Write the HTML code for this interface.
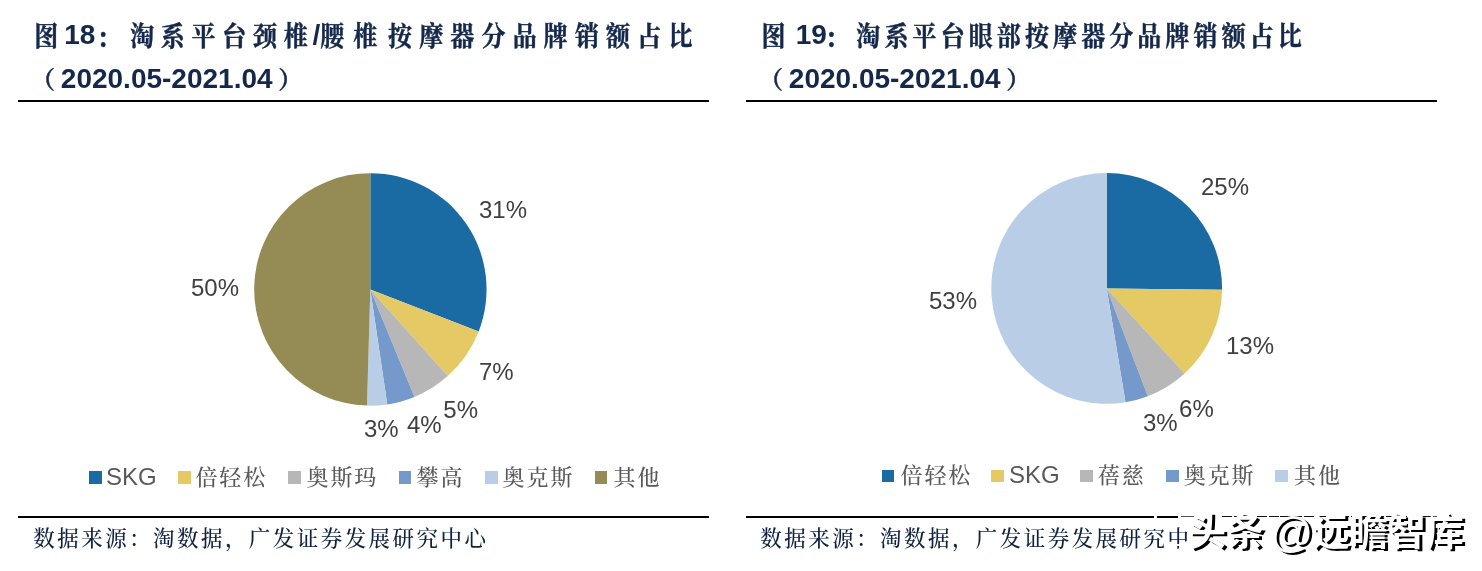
<!DOCTYPE html>
<html lang="zh-CN"><head><meta charset="utf-8"><title>图18 图19 淘系平台按摩器分品牌销额占比</title>
<style>
html,body{margin:0;padding:0;background:#fff;}
body{width:1482px;height:571px;position:relative;overflow:hidden;}
.t{position:absolute;white-space:nowrap;color:#14284b;font-weight:700;font-size:24px;line-height:40px;height:40px;font-family:"Liberation Sans","Noto Serif CJK SC",serif;}
.t .n{font-size:28px;letter-spacing:0;}
.t .p{-webkit-text-stroke:0.4px #14284b;}
.t .c{display:inline-block;transform:translateY(0.8px) scaleY(1.12);-webkit-text-stroke:0.4px #14284b;}
.rule{position:absolute;height:2px;background:#000;}
.src{position:absolute;white-space:nowrap;color:#10213f;font-size:21.5px;line-height:30px;font-family:"Liberation Serif","Noto Serif CJK SC",serif;letter-spacing:2.45px;font-weight:500;}
.lbl{position:absolute;white-space:nowrap;color:#404040;font-size:24px;line-height:28px;font-family:"Liberation Sans",sans-serif;}
.leg{position:absolute;top:462.5px;white-space:nowrap;color:#595959;font-size:22px;line-height:30px;letter-spacing:1.9px;font-family:"Liberation Sans","Noto Serif CJK SC",serif;font-weight:500;}
.leg.en{top:462px;font-size:24px;letter-spacing:0;font-weight:400;}
.sq{position:absolute;top:471px;width:12.8px;height:12.8px;}
.sq.r{top:470px;height:12px;}
.leg.r{top:460.5px;}
.leg.en.r{top:460px;}
svg{position:absolute;left:0;top:0;}
.gap{position:absolute;top:515px;height:4px;background:#fff;}
.thin{position:absolute;top:516.4px;height:0.9px;background:#555;}
.thin.dash{top:515.6px;height:1.5px;background:repeating-linear-gradient(90deg,#111 0,#111 10px,#fff 10px,#fff 11.7px);}
.cover{position:absolute;background:#fff;}
.wm{position:absolute;white-space:nowrap;color:#fff;font-size:38px;line-height:48px;word-spacing:-4.5px;font-family:"Liberation Sans","Noto Sans CJK SC",sans-serif;text-shadow:3px 2.5px 0 #000;font-weight:700;transform:scaleY(0.99);transform-origin:0 50%;}
</style></head><body>
<div class="t" id="t1a" style="left:34.2px;top:15px;"><span class="c" style="letter-spacing:6px">图</span><span class="n">18</span><span class="c" style="margin-left:1.3px;letter-spacing:9.5px;position:relative;top:2px">：</span><span class="c" style="letter-spacing:6.7px">淘系平台颈椎</span><span class="n" style="margin-left:-1.8px">/</span><span class="c" style="letter-spacing:9px">腰</span><span class="c" style="letter-spacing:10.7px">椎</span><span class="c" style="letter-spacing:7.15px">按摩器分品牌销额占比</span></div>
<div class="t" id="t1b" style="left:31px;top:59px;"><span class="p" style="letter-spacing:5.8px">（</span><span class="n" style="margin-right:5.7px">2020.05-2021.04</span><span class="p">）</span></div>
<div class="rule" style="left:18px;top:100px;width:691px;"></div>
<div class="t" id="t2a" style="left:761.5px;top:15px;"><span class="c" style="letter-spacing:2.4px">图</span><span class="n"> 19</span><span class="c" style="margin-left:-1.8px;letter-spacing:7.3px;position:relative;top:2px">：</span><span class="c" style="letter-spacing:4.1px">淘系平台眼部按摩器分品牌销额占比</span></div>
<div class="t" id="t2b" style="left:759px;top:59px;"><span class="p" style="letter-spacing:5.8px">（</span><span class="n" style="margin-right:5.7px">2020.05-2021.04</span><span class="p">）</span></div>
<div class="rule" style="left:746px;top:100px;width:691px;"></div>

<svg width="1482" height="571" viewBox="0 0 1482 571">
<path d="M370.30 289.40L370.30 173.15A116.25 116.25 0 0 1 478.65 331.51Z" fill="#1a6ba4"/>
<path d="M370.30 289.40L478.65 331.51A116.25 116.25 0 0 1 447.72 376.12Z" fill="#e4c965"/>
<path d="M370.30 289.40L447.72 376.12A116.25 116.25 0 0 1 414.45 396.94Z" fill="#b7b7b7"/>
<path d="M370.30 289.40L414.45 396.94A116.25 116.25 0 0 1 387.26 404.41Z" fill="#7699cb"/>
<path d="M370.30 289.40L387.26 404.41A116.25 116.25 0 0 1 367.01 405.60Z" fill="#b9cee6"/>
<path d="M370.30 289.40L367.01 405.60A116.25 116.25 0 0 1 370.30 173.15Z" fill="#948c54"/>
<path d="M1106.70 288.40L1106.70 173.00A115.4 115.4 0 0 1 1222.09 289.85Z" fill="#1a6ba4"/>
<path d="M1106.70 288.40L1222.09 289.85A115.4 115.4 0 0 1 1184.63 373.51Z" fill="#e4c965"/>
<path d="M1106.70 288.40L1184.63 373.51A115.4 115.4 0 0 1 1147.83 396.22Z" fill="#b7b7b7"/>
<path d="M1106.70 288.40L1147.83 396.22A115.4 115.4 0 0 1 1125.47 402.26Z" fill="#7699cb"/>
<path d="M1106.70 288.40L1125.47 402.26A115.4 115.4 0 1 1 1106.70 173.00Z" fill="#b9cee6"/>
</svg>

<div class="lbl" id="l31" style="left:479px;top:196px;">31%</div>
<div class="lbl" id="l7" style="left:479px;top:358px;">7%</div>
<div class="lbl" id="l5" style="left:443.3px;top:396px;">5%</div>
<div class="lbl" id="l4" style="left:407px;top:411px;">4%</div>
<div class="lbl" id="l3" style="left:364px;top:415px;">3%</div>
<div class="lbl" id="l50" style="left:191px;top:274px;">50%</div>

<div class="lbl" id="r25" style="left:1201px;top:173px;">25%</div>
<div class="lbl" id="r13" style="left:1226px;top:332px;">13%</div>
<div class="lbl" id="r6" style="left:1179.1px;top:395px;">6%</div>
<div class="lbl" id="r3" style="left:1143px;top:409px;">3%</div>
<div class="lbl" id="r53" style="left:929px;top:287px;">53%</div>

<div class="sq" style="left:89px;background:#1a6ba4"></div><div class="leg en" style="left:106px;">SKG</div>
<div class="sq" style="left:178.3px;background:#e4c965"></div><div class="leg" style="left:195.4px;">倍轻松</div>
<div class="sq" style="left:288.4px;background:#b7b7b7"></div><div class="leg" style="left:306.5px;">奥斯玛</div>
<div class="sq" style="left:398.7px;background:#7699cb"></div><div class="leg" style="left:416.6px;">攀高</div>
<div class="sq" style="left:485px;background:#b9cee6"></div><div class="leg" style="left:502.6px;">奥克斯</div>
<div class="sq" style="left:594.6px;background:#948c54"></div><div class="leg" style="left:613.5px;">其他</div>
<div class="sq r" style="left:881.7px;background:#1a6ba4"></div><div class="leg r" style="left:900.5px;">倍轻松</div>
<div class="sq r" style="left:991px;background:#e4c965"></div><div class="leg en r" style="left:1009px;">SKG</div>
<div class="sq r" style="left:1080px;background:#b7b7b7"></div><div class="leg r" style="left:1097.8px;">蓓慈</div>
<div class="sq r" style="left:1166px;background:#7699cb"></div><div class="leg r" style="left:1183.8px;">奥克斯</div>
<div class="sq r" style="left:1275px;background:#b9cee6"></div><div class="leg r" style="left:1294px;">其他</div>

<div class="rule" style="left:18px;top:516px;width:691px;"></div>
<div class="rule" style="left:746px;top:516px;width:435px;"></div>
<div class="gap" style="left:1153.6px;width:3.1px;"></div>
<div class="gap" style="left:1177.7px;width:3.5px;"></div>
<div class="thin" style="left:1181px;width:12.5px;"></div>
<div class="thin dash" style="left:1222px;width:215px;"></div>
<div class="src" id="s1" style="left:33.3px;top:523.5px;">数据来源：淘数据，广发证券发展研究中心</div>
<div class="src" id="s2" style="left:760.3px;top:523.5px;">数据来源：淘数据，广发证券发展研究中心</div>
<div class="cover" style="left:1186.5px;top:521px;width:34px;height:32px;"></div>
<div class="cover" style="left:1153.6px;top:518px;width:3.1px;height:11px;"></div>
<div class="cover" style="left:1146px;top:526px;width:20px;height:3.2px;"></div>
<div class="cover" style="left:1175px;top:543.5px;width:8px;height:2.5px;"></div>
<div class="wm" id="wm" style="left:1188px;top:506.5px;">头条 <span style="font-size:42.3px;font-weight:400;margin-right:-1.3px;position:relative;top:2px">@</span>远瞻智库</div>
</body></html>
